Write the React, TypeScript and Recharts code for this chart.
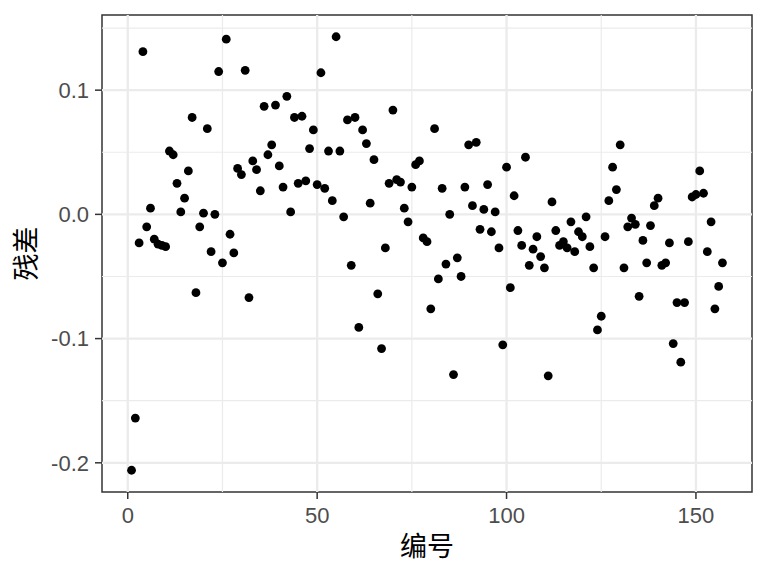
import React from 'react';
import { ScatterChart, Scatter, XAxis, YAxis, ReferenceLine, ReferenceArea, Label } from 'recharts';

// 残差 (residuals) by 编号 1..157
const residuals = [
  -0.206, -0.164, -0.023, 0.131, -0.010, 0.005, -0.020, -0.024, -0.025, -0.026,
  0.051, 0.048, 0.025, 0.002, 0.013, 0.035, 0.078, -0.063, -0.010, 0.001,
  0.069, -0.030, 0.000, 0.115, -0.039, 0.141, -0.016, -0.031, 0.037, 0.032,
  0.116, -0.067, 0.043, 0.036, 0.019, 0.087, 0.048, 0.056, 0.088, 0.039,
  0.022, 0.095, 0.002, 0.078, 0.025, 0.079, 0.027, 0.053, 0.068, 0.024,
  0.114, 0.021, 0.051, 0.011, 0.143, 0.051, -0.002, 0.076, -0.041, 0.078,
  -0.091, 0.068, 0.057, 0.009, 0.044, -0.064, -0.108, -0.027, 0.025, 0.084,
  0.028, 0.026, 0.005, -0.006, 0.022, 0.040, 0.043, -0.019, -0.022, -0.076,
  0.069, -0.052, 0.021, -0.040, 0.000, -0.129, -0.035, -0.050, 0.022, 0.056,
  0.007, 0.058, -0.012, 0.004, 0.024, -0.014, 0.002, -0.027, -0.105, 0.038,
  -0.059, 0.015, -0.013, -0.025, 0.046, -0.041, -0.028, -0.018, -0.034, -0.043,
  -0.130, 0.010, -0.013, -0.025, -0.022, -0.027, -0.006, -0.030, -0.014, -0.018,
  -0.002, -0.026, -0.043, -0.093, -0.082, -0.018, 0.011, 0.038, 0.020, 0.056,
  -0.043, -0.010, -0.003, -0.008, -0.066, -0.021, -0.039, -0.009, 0.007, 0.013,
  -0.041, -0.039, -0.023, -0.104, -0.071, -0.119, -0.071, -0.022, 0.014, 0.016,
  0.035, 0.017, -0.030, -0.006, -0.076, -0.058, -0.039,
];

const xTicks = [0, 50, 100, 150];
const xMinor = [25, 75, 125];
const yTicks = [-0.2, -0.1, 0, 0.1];
const yMinor = [-0.15, -0.05, 0.05, 0.15];
const xDomain = [-6.8, 164.8];
const yDomain = [-0.2235, 0.1605];

const data = residuals.map((v, i) => ({ id: i + 1, resid: v }));

const tickStyle = { fontFamily: '"Liberation Sans", Arial, sans-serif', fontSize: 22, fill: '#4D4D4D' };
const titleStyle = { fontFamily: '"Noto Sans CJK SC", sans-serif', fontSize: 27, fill: '#000' };

export default function App() {
  return (
    <div style={{ position: 'absolute', left: 0, top: 0, width: 768, height: 576, background: '#fff' }}>
      <ScatterChart width={768} height={576} margin={{ top: 15, right: 16, bottom: 0, left: 0 }}>
        {xMinor.map((v) => (
          <ReferenceLine key={'xm' + v} x={v} stroke="#EBEBEB" strokeWidth={1.2} />
        ))}
        {yMinor.map((v) => (
          <ReferenceLine key={'ym' + v} y={v} stroke="#EBEBEB" strokeWidth={1.2} />
        ))}
        {xTicks.map((v) => (
          <ReferenceLine key={'x' + v} x={v} stroke="#EBEBEB" strokeWidth={2.3} />
        ))}
        {yTicks.map((v) => (
          <ReferenceLine key={'y' + v} y={v} stroke="#EBEBEB" strokeWidth={2.3} />
        ))}
        <XAxis
          type="number"
          dataKey="id"
          domain={xDomain}
          ticks={xTicks}
          allowDataOverflow
          height={84}
          axisLine={false}
          tickLine={{ stroke: '#333333', strokeWidth: 1.5 }}
          tickSize={7}
          tickMargin={8}
          tick={tickStyle}
        >
          <Label value="编号" position="insideBottom" offset={20} style={titleStyle} />
        </XAxis>
        <YAxis
          type="number"
          dataKey="resid"
          domain={yDomain}
          ticks={yTicks}
          allowDataOverflow
          width={102}
          axisLine={false}
          tickLine={{ stroke: '#333333', strokeWidth: 1.5 }}
          tickSize={7}
          tickMargin={6}
          tick={tickStyle}
          tickFormatter={(v: number) => v.toFixed(1)}
        >
          <Label value="残差" angle={-90} position="insideLeft" offset={26} style={{ ...titleStyle, textAnchor: 'middle' }} />
        </YAxis>
        <ReferenceArea
          x1={xDomain[0]}
          x2={xDomain[1]}
          y1={yDomain[0]}
          y2={yDomain[1]}
          fill="none"
          stroke="#333333"
          strokeWidth={1.5}
          ifOverflow="visible"
        />
        <Scatter
          data={data}
          isAnimationActive={false}
          shape={(p: any) => <circle cx={p.cx} cy={p.cy} r={4.4} fill="#000" />}
        />
      </ScatterChart>
    </div>
  );
}
